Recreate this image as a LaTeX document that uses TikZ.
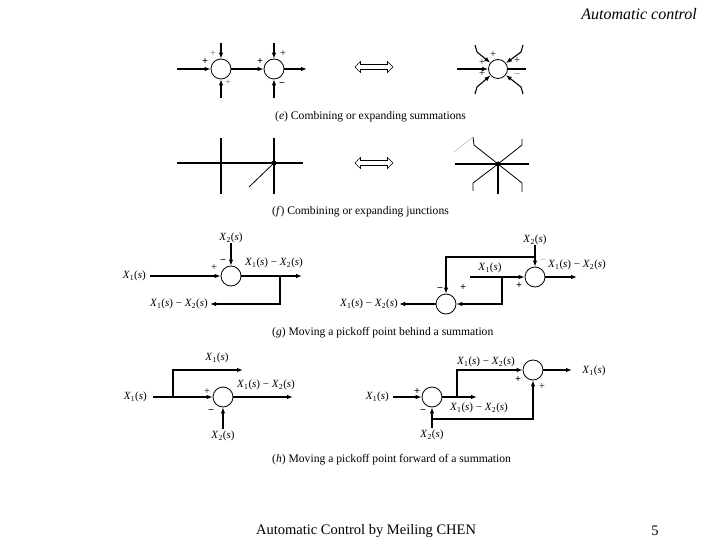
\documentclass[tikz,border=0pt]{standalone}
\usepackage{fontspec}
\setmainfont{Liberation Serif}
\usetikzlibrary{arrows.meta,shapes.arrows}
\newcommand\XX[1]{\textit{X}\textsubscript{#1}(\textit{s})}
\newcommand\XD{\XX{1} − \XX{2}}
\begin{document}
\begin{tikzpicture}[x=1pt,y=-1pt,
  sumc/.style={circle,draw,minimum size=20pt,inner sep=0pt,line width=0.8pt},
  sig/.style={font=\fontsize{10.5}{10.5}\selectfont,inner sep=0pt},
  lab/.style={font=\fontsize{11}{11}\selectfont,inner sep=0pt},
  captxt/.style={font=\fontsize{11.6}{11.6}\selectfont,anchor=west,inner sep=0pt},
  ln/.style={line width=1.1pt},
  ar/.style={ln,-{Latex[length=6pt,width=4.5pt]}},
  jdot/.style={circle,fill,inner sep=0pt,minimum size=5pt},
  dbl/.style={double arrow,draw,line width=0.6pt,minimum height=38pt,minimum width=11pt,
    double arrow head extend=2.5pt,inner sep=1.8pt}]
\useasboundingbox (0,0) rectangle (720,540);
% header / footer
\node[font=\fontsize{16}{16}\selectfont\itshape,anchor=east,inner sep=0pt] (hdr) at (697,14) {Automatic control};
\node[font=\fontsize{14.5}{14.5}\selectfont,inner sep=0pt] (ftr) at (366,531) {Automatic Control by Meiling CHEN};
\node[font=\fontsize{14.5}{14.5}\selectfont,inner sep=0pt] (pg) at (655,531) {5};

% ---------------- (e) ----------------
\node[sumc] (e1) at (221,69) {};
\node[sumc] (e2) at (274,69) {};
\coordinate (e1in) at (177,69);
\coordinate (e2out) at (307,69);
\coordinate (e1t) at (221,43);
\coordinate (e1b) at (221,98);
\coordinate (e2t) at (274,43);
\coordinate (e2b) at (274,98);
\draw[ar] (e1in) -- (e1);
\draw[ar] (e1) -- (e2);
\draw[ar] (e2) -- (e2out);
\draw[ar] (e1t) -- (e1);
\draw[ar] (e1b) -- (e1);
\draw[ar] (e2t) -- (e2);
\draw[ar] (e2b) -- (e2);
\node[sig,text=black!55] (s1) at (213,54) {+};
\node[sig] (s2) at (205,62) {\textbf{+}};
\node[sig,text=black!55] (s3) at (228,83) {+};
\node[sig] (s4) at (260,62) {\textbf{+}};
\node[sig] (s5) at (283,54) {+};
\node[sig] (s6) at (282,85) {\textbf{−}};

\node[dbl] (da1) at (374,67) {};

\node[sumc,minimum size=19pt] (e3) at (498,69) {};
\coordinate (e3in) at (457,69);
\coordinate (e3out) at (526,69);
\draw[ar] (e3in) -- (e3);
\draw[ln] (e3) -- (e3out);
\coordinate (ea1) at (475,45); \coordinate (ea2) at (477,52);
\coordinate (eb1) at (523,45); \coordinate (eb2) at (521,52);
\coordinate (ec1) at (475,94); \coordinate (ec2) at (477,87);
\coordinate (ed1) at (523,94); \coordinate (ed2) at (521,87);
\draw[ar] (ea1) -- (ea2) -- (e3);
\draw[ar] (eb1) -- (eb2) -- (e3);
\draw[ar] (ec1) -- (ec2) -- (e3);
\draw[ar] (ed1) -- (ed2) -- (e3);
\node[sig] (s7) at (493,55) {+};
\node[sig] (s8) at (517,61) {+};
\node[sig] (s9) at (482,63) {+};
\node[sig] (s10) at (482,74) {+};
\node[sig,text=black!60] (s11) at (517,76) {−};
\node[captxt] (cape) at (275,117) {(\textit{e}) Combining or expanding summations};

% ---------------- (f) ----------------
\coordinate (fh1) at (177,163); \coordinate (fh2) at (303,163);
\coordinate (fv1a) at (221,138); \coordinate (fv1b) at (221,194);
\coordinate (fv2a) at (274,138); \coordinate (fv2b) at (274,194);
\coordinate (fd) at (249,187);
\node[jdot] (fj1) at (274,163) {};
\draw[ln] (fh1) -- (fh2);
\draw[ln] (fv1a) -- (fv1b);
\draw[ln] (fv2a) -- (fv2b);
\draw[line width=0.8pt] (fj1.center) -- (fd);

\node[dbl] (da2) at (374,163) {};

\node[jdot] (fj2) at (498,164) {};
\coordinate (fl) at (455,164); \coordinate (fr) at (529,164);
\coordinate (fdn) at (498,194);
\coordinate (fa1) at (474,145); \coordinate (fa2) at (473,137);
\coordinate (fa3) at (454,152);
\coordinate (fb1) at (522,145); \coordinate (fb2) at (522,139);
\coordinate (fc1) at (473,183); \coordinate (fc2) at (473,191);
\coordinate (fd1) at (522,183); \coordinate (fd2) at (522,192);
\draw[ln] (fl) -- (fr);
\draw[ln] (fj2.center) -- (fdn);
\draw[line width=0.8pt] (fj2.center) -- (fa1) -- (fa2);
\draw[line width=0.5pt,black!30] (fa2) -- (fa3);
\draw[line width=0.8pt] (fj2.center) -- (fb1) -- (fb2);
\draw[line width=0.8pt] (fj2.center) -- (fc1) -- (fc2);
\draw[line width=0.8pt] (fj2.center) -- (fd1) -- (fd2);
\node[captxt] (capf) at (272,212) {(\textit{f}) Combining or expanding junctions};

% ---------------- (g) left ----------------
\node[sumc] (g1) at (231,276) {};
\node[lab] (g1x2) at (231,238) {\XX{2}};
\node[lab,anchor=east] (g1x1) at (146,276) {\XX{1}};
\coordinate (g1out) at (302,276);
\coordinate (g1p) at (280,276);
\node[lab,anchor=east] (g1fb) at (208,304) {\XD};
\draw[ar] (g1x2) -- (g1);
\draw[ar,shorten <=4pt] (g1x1) -- (g1);
\draw[ar] (g1) -- (g1out);
\draw[ar,shorten >=2pt] (g1p) |- (g1fb);
\node[lab] (g1l) at (274,263) {\XD};
\node[sig] (s12) at (214,268) {+};
\node[sig] (s13) at (223,262) {\textbf{−}};

% ---------------- (g) right ----------------
\node[sumc] (gA) at (535,277) {};
\node[sumc] (gB) at (446,304) {};
\node[lab] (gx2) at (535,240) {\XX{2}};
\coordinate (gq) at (535,257);
\coordinate (gAin) at (470,277);
\coordinate (gp) at (502,277);
\coordinate (gAout) at (577,277);
\node[lab,anchor=east] (gBout) at (398,304) {\XD};
\draw[ar] (gx2) -- (gA);
\draw[ar] (gq) -| (gB);
\draw[ar] (gAin) -- (gA);
\draw[ar] (gp) |- (gB);
\draw[ar] (gA) -- (gAout);
\draw[ar,shorten >=1pt] (gB) -- (gBout);
\node[lab] (gx1) at (490,268) {\XX{1}};
\node[lab] (gAl) at (577,265) {\XD};
\node[sig] (s14) at (519,286) {\textbf{+}};
\node[sig,text=black!35] (s15) at (543,262) {−};
\node[sig] (s16) at (440,290) {\textbf{−}};
\node[sig] (s17) at (463,288) {\textbf{+}};
\node[captxt] (capg) at (272,333) {(\textit{g}) Moving a pickoff point behind a summation};

% ---------------- (h) left ----------------
\node[sumc] (h1) at (223,397) {};
\node[lab,anchor=east] (h1x1) at (147,397) {\XX{1}};
\coordinate (h1p) at (173,397);
\coordinate (h1up) at (243,370);
\coordinate (h1out) at (293,397);
\node[lab] (h1x2) at (223,436) {\XX{2}};
\draw[ar,shorten <=6pt] (h1x1) -- (h1);
\draw[ar] (h1p) |- (h1up);
\draw[ar] (h1) -- (h1out);
\draw[ar,shorten <=2pt] (h1x2) -- (h1);
\node[lab] (h1l1) at (217,358) {\XX{1}};
\node[lab] (h1l2) at (266,385) {\XD};
\node[sig] (s18) at (207,392) {+};
\node[sig] (s19) at (211,412) {\textbf{−}};

% ---------------- (h) right ----------------
\node[sumc] (hC) at (432,397) {};
\node[sumc] (hD) at (533,370) {};
\node[lab,anchor=east] (hx1) at (389,397) {\XX{1}};
\coordinate (hp) at (457,397);
\coordinate (hCout) at (477,397);
\coordinate (hDout) at (572,370);
\coordinate (hq) at (432,419);
\node[lab] (hx2) at (432,435) {\XX{2}};
\draw[ar,shorten <=4pt] (hx1) -- (hC);
\draw[ar] (hC) -- (hCout);
\draw[ar] (hp) |- (hD);
\draw[ar] (hD) -- (hDout);
\draw[ar,shorten <=2pt] (hx2) -- (hC);
\draw[ar] (hq) -| (hD);
\node[lab] (hl1) at (486,362) {\XD};
\node[lab] (hl2) at (479,408) {\XD};
\node[lab] (hl3) at (594,371) {\XX{1}};
\node[sig] (s20) at (417,392) {\textbf{+}};
\node[sig] (s21) at (423,412) {\textbf{−}};
\node[sig] (s22) at (518,380) {\textbf{+}};
\node[sig] (s23) at (542,387) {+};
\node[captxt] (caph) at (272,460) {(\textit{h}) Moving a pickoff point forward of a summation};
\end{tikzpicture}
\end{document}
